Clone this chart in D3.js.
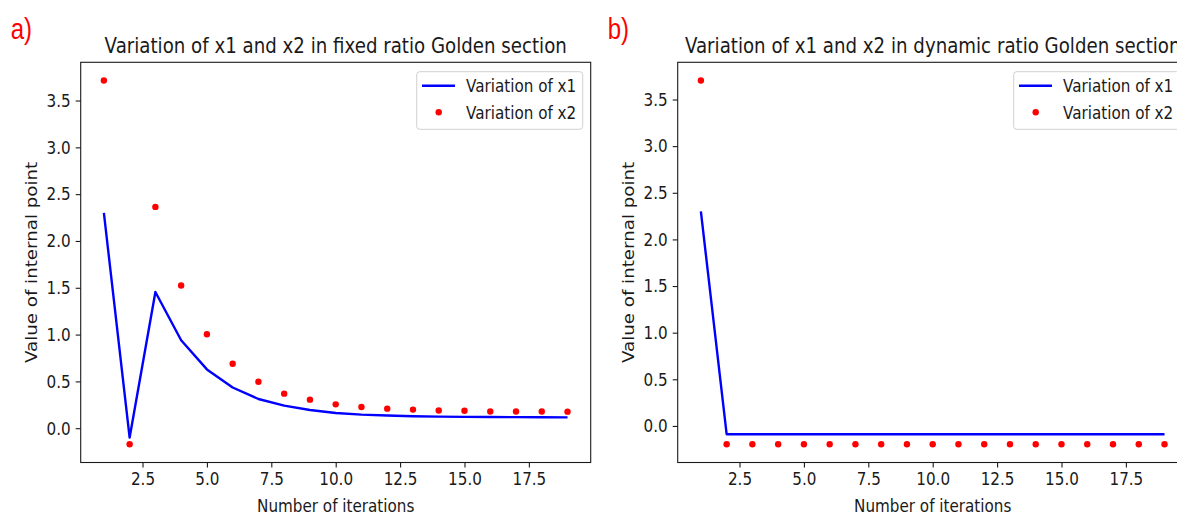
<!DOCTYPE html>
<html>
<head>
<meta charset="utf-8">
<script src="https://cdn.jsdelivr.net/npm/d3@7"></script>
<style>
  html, body { margin: 0; padding: 0; background: #fff; }
  svg { display: block; overflow: hidden; }
  text { font-family: "DejaVu Sans", sans-serif; fill: #1a1a1a; }
</style>
</head>
<body>
<svg id="chart" width="1177" height="516"></svg>
<script>
// ---- data ----
const iterations = [1, 2, 3, 4, 5, 6, 7, 8, 9, 10, 11, 12, 13, 14, 15, 16, 17, 18, 19];
const fixedX1 = [2.30, -0.10, 1.455, 0.94, 0.628, 0.435, 0.312, 0.241, 0.195, 0.163, 0.145, 0.135, 0.128, 0.124, 0.121, 0.119, 0.118, 0.117, 0.116];
const fixedX2 = [3.714, -0.172, 2.364, 1.525, 1.004, 0.688, 0.496, 0.369, 0.305, 0.255, 0.227, 0.209, 0.199, 0.189, 0.187, 0.179, 0.178, 0.178, 0.177];
const dynamicX1 = [2.30, -0.089, -0.089, -0.089, -0.089, -0.089, -0.089, -0.089, -0.089, -0.089, -0.089, -0.089, -0.089, -0.089, -0.089, -0.089, -0.089, -0.089, -0.089];
const dynamicX2 = [3.704, -0.197, -0.197, -0.197, -0.197, -0.197, -0.197, -0.197, -0.197, -0.197, -0.197, -0.197, -0.197, -0.197, -0.197, -0.197, -0.197, -0.197, -0.197];
const xTicks = [2.5, 5.0, 7.5, 10.0, 12.5, 15.0, 17.5];
const yTicks = [0.0, 0.5, 1.0, 1.5, 2.0, 2.5, 3.0, 3.5];
const legendLabels = ["Variation of x1", "Variation of x2"];
const panels = [
  { tag: "a)", title: "Variation of x1 and x2 in fixed ratio Golden section", x1: fixedX1, x2: fixedX2 },
  { tag: "b)", title: "Variation of x1 and x2 in dynamic ratio Golden section", x1: dynamicX1, x2: dynamicX2 }
];
const xLabel = "Number of iterations";
const yLabel = "Value of internal point";

// ---- layout ----
const svg = d3.select("#chart");
const frames = [
  { left: 80.7, top: 62.3, width: 510, height: 400.2 },
  { left: 677.7, top: 62.3, width: 510, height: 400.2 }
];
const tickFont = 15.2, titleFont = 18.2, stretch = 1.2;

function margins(vals) {
  const lo = d3.min(vals), hi = d3.max(vals), pad = (hi - lo) * 0.05;
  return [lo - pad, hi + pad];
}
// vertical stretch of text around its anchor (reference image is taller than wide)
function stretchText(sel) {
  sel.each(function () {
    const t = d3.select(this);
    const x = +t.attr("x") || 0, y = +t.attr("y") || 0;
    t.attr("x", 0).attr("y", 0).attr("transform", `translate(${x},${y}) scale(1,${stretch})`);
  });
}

panels.forEach((p, i) => {
  const f = frames[i];
  const g = svg.append("g").attr("transform", `translate(${f.left},${f.top})`);
  const xd = margins(iterations);
  const yd = margins(p.x1.concat(p.x2));
  const x = d3.scaleLinear().domain(xd).range([0, f.width]);
  const y = d3.scaleLinear().domain(yd).range([f.height, 0]);

  // axes
  const xAxis = d3.axisBottom(x).tickValues(xTicks).tickFormat(d3.format(".1f")).tickSizeInner(5).tickSizeOuter(0).tickPadding(5);
  const yAxis = d3.axisLeft(y).tickValues(yTicks).tickFormat(d3.format(".1f")).tickSizeInner(5).tickSizeOuter(0).tickPadding(5);
  const gx = g.append("g").attr("transform", `translate(0,${f.height})`).call(xAxis);
  const gy = g.append("g").call(yAxis);
  [gx, gy].forEach(a => {
    a.select(".domain").remove();
    a.selectAll("line").attr("stroke", "#1a1a1a").attr("stroke-width", 1.1);
    a.selectAll("text").attr("font-size", tickFont).style("font-family", "DejaVu Sans").attr("fill", "#1a1a1a");
    stretchText(a.selectAll("text"));
  });

  // clip
  const clipId = "clip" + i;
  g.append("clipPath").attr("id", clipId).append("rect").attr("width", f.width).attr("height", f.height);
  const plot = g.append("g").attr("clip-path", `url(#${clipId})`);

  // x1 line
  const line = d3.line().x((d, k) => x(iterations[k])).y(d => y(d));
  plot.append("path").datum(p.x1).attr("d", line)
    .attr("fill", "none").attr("stroke", "#0000ff").attr("stroke-width", 2.4)
    .attr("stroke-linejoin", "round").attr("stroke-linecap", "butt");

  // x2 dots
  plot.selectAll("circle.x2").data(p.x2).enter().append("circle")
    .attr("class", "x2").attr("cx", (d, k) => x(iterations[k])).attr("cy", d => y(d))
    .attr("r", 3.2).attr("fill", "#ff0000");

  // frame
  g.append("rect").attr("width", f.width).attr("height", f.height)
    .attr("fill", "none").attr("stroke", "#1a1a1a").attr("stroke-width", 1.1);

  // title
  g.append("text").attr("x", f.width / 2).attr("y", -9).attr("text-anchor", "middle")
    .attr("font-size", titleFont).text(p.title).call(stretchText);

  // panel tag
  svg.append("text").attr("x", f.left - 70).attr("y", 39).attr("font-size", 24)
    .style("font-family", "Liberation Sans, Arial, sans-serif")
    .style("fill", "#ff0000").text(p.tag).call(stretchText);

  // axis labels
  g.append("text").attr("x", f.width / 2).attr("y", f.height + 49).attr("text-anchor", "middle")
    .attr("font-size", tickFont).text(xLabel).call(stretchText);
  g.append("text").attr("transform", `translate(${-44},${f.height / 2}) rotate(-90) scale(${stretch},1)`)
    .attr("text-anchor", "middle").attr("font-size", tickFont).text(yLabel);

  // legend
  const lw = 166, lh = 57.6;
  const lg = g.append("g").attr("transform", `translate(${f.width - 8 - lw},${9.4})`);
  lg.append("rect").attr("width", lw).attr("height", lh).attr("rx", 3)
    .attr("fill", "#fff").attr("fill-opacity", 0.8).attr("stroke", "#d0d0d0").attr("stroke-width", 1);
  lg.append("line").attr("x1", 5.3).attr("x2", 38.3).attr("y1", 14).attr("y2", 14)
    .attr("stroke", "#0000ff").attr("stroke-width", 2.4);
  lg.append("circle").attr("cx", 22).attr("cy", 40.6).attr("r", 3.2).attr("fill", "#ff0000");
  legendLabels.forEach((t, k) => {
    lg.append("text").attr("x", 49.3).attr("y", 14 + k * 26.6).attr("dy", "0.35em")
      .attr("font-size", tickFont).text(t).call(stretchText);
  });
});
</script>
</body>
</html>
